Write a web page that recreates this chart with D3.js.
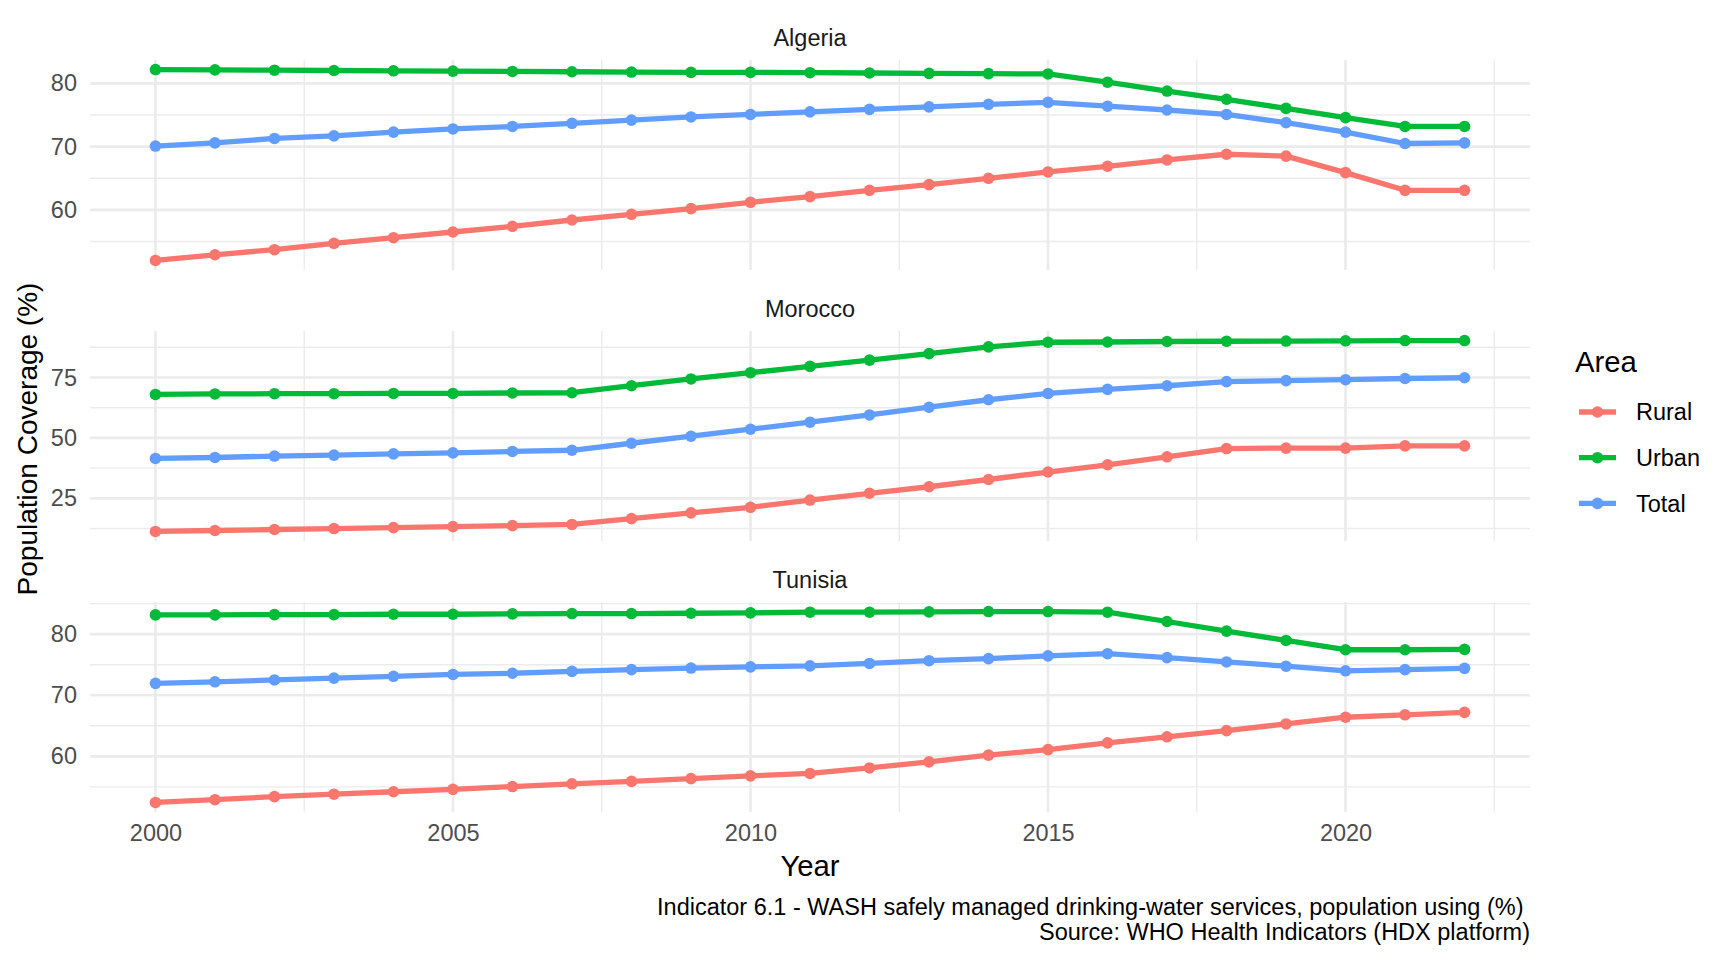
<!DOCTYPE html>
<html>
<head>
<meta charset="utf-8">
<script src="https://cdn.jsdelivr.net/npm/d3@7"></script>
<style>
  body { margin: 0; background: #fff; }
  svg { display: block; }
  text { font-family: "Liberation Sans", Arial, sans-serif; }
</style>
</head>
<body>
<div id="chart"></div>
<script>
const width = 1728;
const height = 960;

// categories
const years = [2000, 2001, 2002, 2003, 2004, 2005, 2006, 2007, 2008, 2009, 2010, 2011,
               2012, 2013, 2014, 2015, 2016, 2017, 2018, 2019, 2020, 2021, 2022];
const countries = ["Algeria", "Morocco", "Tunisia"];
const areas = ["Rural", "Urban", "Total"];
const areaColors = ["#F8766D", "#00BA38", "#619CFF"];

// series values (% of population)
const algeriaRural = [52.0, 52.9, 53.7, 54.7, 55.6, 56.5, 57.4, 58.4, 59.3, 60.2, 61.2, 62.1,
                      63.1, 64.0, 65.0, 66.0, 66.9, 67.9, 68.8, 68.5, 65.9, 63.1, 63.1];
const algeriaUrban = [82.2, 82.15, 82.1, 82.05, 82.0, 81.95, 81.9, 81.85, 81.8, 81.75, 81.75, 81.7,
                      81.65, 81.6, 81.55, 81.5, 80.2, 78.8, 77.5, 76.05, 74.6, 73.2, 73.2];
const algeriaTotal = [70.1, 70.6, 71.3, 71.7, 72.3, 72.8, 73.2, 73.7, 74.2, 74.7, 75.1, 75.5,
                      75.9, 76.3, 76.7, 77.0, 76.4, 75.8, 75.1, 73.8, 72.3, 70.5, 70.6];

const moroccoRural = [11.3, 11.7, 12.1, 12.5, 12.9, 13.3, 13.7, 14.2, 16.6, 19.0, 21.3, 24.3,
                      27.1, 29.8, 32.8, 35.9, 38.9, 42.2, 45.6, 45.8, 45.8, 46.7, 46.7];
const moroccoUrban = [68.0, 68.2, 68.3, 68.3, 68.4, 68.4, 68.6, 68.7, 71.6, 74.4, 77.0, 79.6,
                      82.2, 84.9, 87.7, 89.6, 89.7, 89.9, 90.0, 90.1, 90.2, 90.3, 90.3];
const moroccoTotal = [41.5, 41.9, 42.5, 42.9, 43.4, 43.8, 44.4, 44.9, 47.8, 50.7, 53.6, 56.5,
                      59.5, 62.7, 65.8, 68.4, 70.1, 71.6, 73.3, 73.7, 74.1, 74.6, 74.9];

const tunisiaRural = [52.45, 52.9, 53.4, 53.8, 54.2, 54.6, 55.05, 55.5, 55.9, 56.35, 56.8, 57.2,
                      58.1, 59.1, 60.2, 61.1, 62.2, 63.2, 64.2, 65.3, 66.4, 66.8, 67.2];
const tunisiaUrban = [83.15, 83.15, 83.2, 83.2, 83.26, 83.26, 83.32, 83.37, 83.37, 83.42, 83.48, 83.59,
                      83.59, 83.64, 83.7, 83.7, 83.59, 82.07, 80.5, 78.97, 77.45, 77.45, 77.5];
const tunisiaTotal = [71.95, 72.2, 72.5, 72.8, 73.1, 73.4, 73.6, 73.9, 74.2, 74.45, 74.65, 74.8,
                      75.2, 75.65, 76.0, 76.45, 76.8, 76.15, 75.45, 74.75, 74.0, 74.2, 74.4];

// tick labels
const xTicks = [2000, 2005, 2010, 2015, 2020];
const algeriaTicks = [60, 70, 80];
const moroccoTicks = [25, 50, 75];
const tunisiaTicks = [60, 70, 80];

const panels = [
  { name: countries[0], series: [algeriaRural, algeriaUrban, algeriaTotal], ticks: algeriaTicks },
  { name: countries[1], series: [moroccoRural, moroccoUrban, moroccoTotal], ticks: moroccoTicks },
  { name: countries[2], series: [tunisiaRural, tunisiaUrban, tunisiaTotal], ticks: tunisiaTicks },
];

// layout
const plotLeft = 90;
const plotRight = 1530;
const panelTop = 60;
const panelH = 210;
const panelGap = 61;
const gridColor = "#EBEBEB";
const smallFont = "23.5px";
const bigFont = "29.3px";

const svg = d3.select("#chart")
  .append("svg")
  .attr("width", width)
  .attr("height", height)
  .attr("viewBox", `0 0 ${width} ${height}`);

// shared x scale with ggplot-style 5% expansion
const xExt = d3.extent(years);
const xPad = (xExt[1] - xExt[0]) * 0.05;
const xScale = d3.scaleLinear()
  .domain([xExt[0] - xPad, xExt[1] + xPad])
  .range([plotLeft, plotRight]);

// minor breaks halfway between majors
function minorBreaks(ticks, domain) {
  const step = ticks[1] - ticks[0];
  const out = [];
  for (let v = ticks[0] - step / 2; v <= domain[1]; v += step) {
    if (v >= domain[0]) out.push(v);
  }
  return out;
}

const line = d3.line();

panels.forEach((p, i) => {
  const top = panelTop + i * (panelH + panelGap);
  const all = p.series.flat();
  const [lo, hi] = d3.extent(all);
  const pad = (hi - lo) * 0.05;
  const yScale = d3.scaleLinear()
    .domain([lo - pad, hi + pad])
    .range([top + panelH, top]);

  const g = svg.append("g").attr("class", "panel");

  // minor grid
  g.append("g").selectAll("line")
    .data(minorBreaks(p.ticks, yScale.domain()))
    .join("line")
    .attr("x1", plotLeft).attr("x2", plotRight)
    .attr("y1", d => yScale(d)).attr("y2", d => yScale(d))
    .attr("stroke", gridColor).attr("stroke-width", 1.4);
  g.append("g").selectAll("line")
    .data(minorBreaks(xTicks, xScale.domain()))
    .join("line")
    .attr("x1", d => xScale(d)).attr("x2", d => xScale(d))
    .attr("y1", top).attr("y2", top + panelH)
    .attr("stroke", gridColor).attr("stroke-width", 1.4);

  // major grid
  g.append("g").selectAll("line")
    .data(p.ticks)
    .join("line")
    .attr("x1", plotLeft).attr("x2", plotRight)
    .attr("y1", d => yScale(d)).attr("y2", d => yScale(d))
    .attr("stroke", gridColor).attr("stroke-width", 2.7);
  g.append("g").selectAll("line")
    .data(xTicks)
    .join("line")
    .attr("x1", d => xScale(d)).attr("x2", d => xScale(d))
    .attr("y1", top).attr("y2", top + panelH)
    .attr("stroke", gridColor).attr("stroke-width", 2.7);

  // y axis labels
  const yAxis = d3.axisLeft(yScale).tickValues(p.ticks).tickSize(0).tickPadding(13);
  const ya = g.append("g")
    .attr("transform", `translate(${plotLeft},0)`)
    .call(yAxis);
  ya.select(".domain").remove();
  ya.selectAll("text")
    .attr("fill", "#4D4D4D")
    .style("font-size", smallFont)
    .style("font-family", "'Liberation Sans', Arial, sans-serif");

  // strip title
  g.append("text")
    .attr("x", (plotLeft + plotRight) / 2)
    .attr("y", top - 22)
    .attr("dy", "0.35em")
    .attr("text-anchor", "middle")
    .attr("fill", "#1A1A1A")
    .style("font-size", smallFont)
    .text(p.name);

  // lines then points
  p.series.forEach((vals, k) => {
    g.append("path")
      .attr("d", line(years.map((yr, j) => [xScale(yr), yScale(vals[j])])))
      .attr("fill", "none")
      .attr("stroke", areaColors[k])
      .attr("stroke-width", 5.3)
      .attr("stroke-linejoin", "round");
  });
  p.series.forEach((vals, k) => {
    g.append("g").selectAll("circle")
      .data(vals)
      .join("circle")
      .attr("cx", (d, j) => xScale(years[j]))
      .attr("cy", d => yScale(d))
      .attr("r", 5.8)
      .attr("fill", areaColors[k]);
  });
});

// x axis labels under last panel
const bottom = panelTop + 2 * (panelH + panelGap) + panelH;
const xAxis = d3.axisBottom(xScale).tickValues(xTicks).tickFormat(d3.format("d")).tickSize(0).tickPadding(12);
const xa = svg.append("g")
  .attr("transform", `translate(0,${bottom})`)
  .call(xAxis);
xa.select(".domain").remove();
xa.selectAll("text")
  .attr("fill", "#4D4D4D")
  .style("font-size", smallFont)
  .style("font-family", "'Liberation Sans', Arial, sans-serif");

// axis titles
svg.append("text")
  .attr("x", (plotLeft + plotRight) / 2)
  .attr("y", 866)
  .attr("dy", "0.35em")
  .attr("text-anchor", "middle")
  .style("font-size", bigFont)
  .text("Year");

svg.append("text")
  .attr("transform", `translate(27,${(panelTop + bottom) / 2 + 3}) rotate(-90)`)
  .attr("dy", "0.35em")
  .attr("text-anchor", "middle")
  .style("font-size", "28px")
  .text("Population Coverage (%)");

// caption
const caption = svg.append("text")
  .attr("text-anchor", "end")
  .style("font-size", smallFont)
  .style("white-space", "pre")
  .attr("fill", "#000");
caption.append("tspan").attr("x", plotRight).attr("y", 915)
  .text("Indicator 6.1 - WASH safely managed drinking-water services, population using (%) ");
caption.append("tspan").attr("x", plotRight).attr("y", 940)
  .text("Source: WHO Health Indicators (HDX platform)");

// legend
const legend = svg.append("g").attr("transform", "translate(1575,0)");
legend.append("text")
  .attr("x", 0).attr("y", 362)
  .attr("dy", "0.35em")
  .style("font-size", bigFont)
  .text("Area");

const keys = legend.selectAll("g.key")
  .data(areas)
  .join("g")
  .attr("class", "key")
  .attr("transform", (d, i) => `translate(0,${412 + i * 45.7})`);
keys.append("line")
  .attr("x1", 4).attr("x2", 41)
  .attr("stroke", (d, i) => areaColors[i])
  .attr("stroke-width", 5.3);
keys.append("circle")
  .attr("cx", 22.5).attr("r", 5.8)
  .attr("fill", (d, i) => areaColors[i]);
keys.append("text")
  .attr("x", 61)
  .attr("dy", "0.35em")
  .style("font-size", smallFont)
  .text(d => d);
</script>
</body>
</html>
